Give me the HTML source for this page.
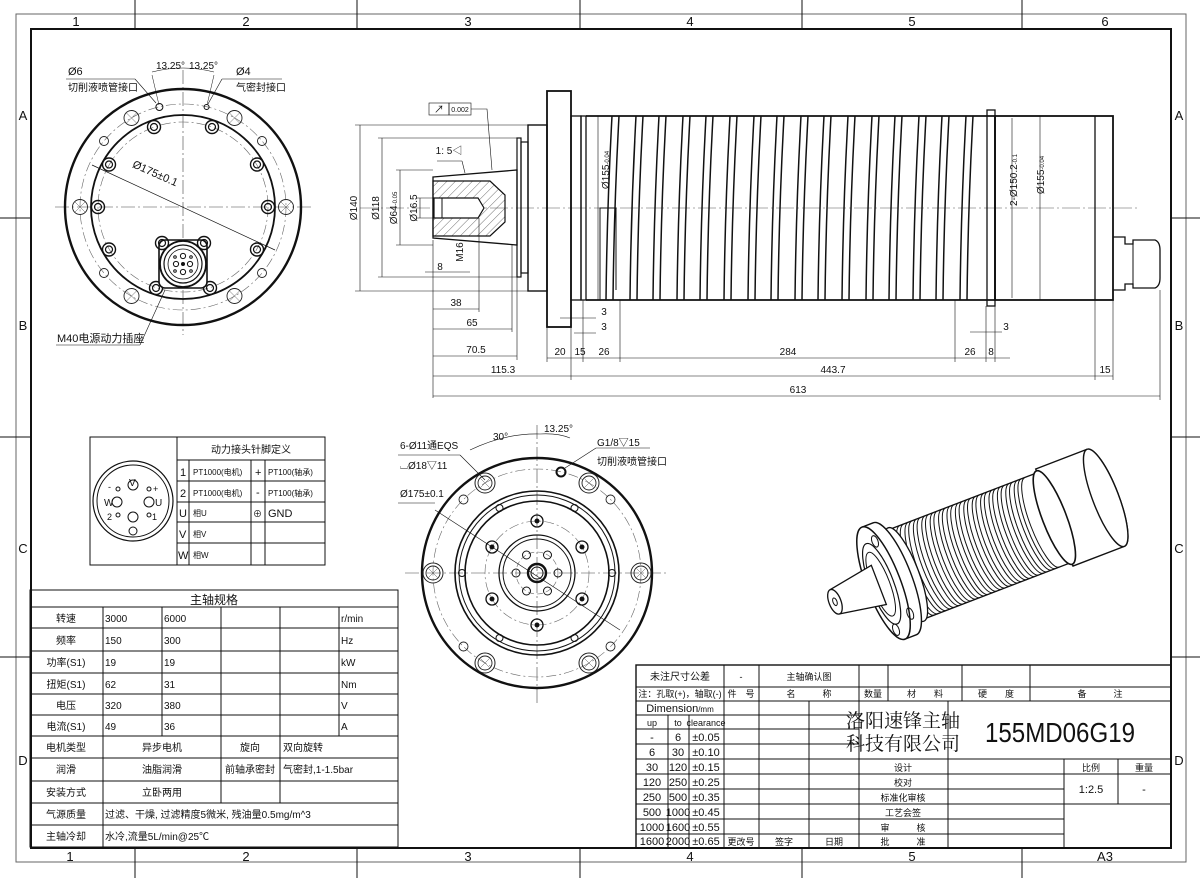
<!DOCTYPE html>
<html><head><meta charset="utf-8"><style>
html,body{margin:0;padding:0;background:#fff;}
svg{display:block;}
text{font-family:"Liberation Sans","Noto Sans CJK SC",sans-serif;fill:#111;}
</style></head><body>
<svg width="1200" height="878" viewBox="0 0 1200 878" xmlns="http://www.w3.org/2000/svg">
<defs>
<g id="groove"><path d="M6,116 Q1,208 0,300" fill="none" stroke="#111" stroke-width="1.5"/><path d="M13,116 Q8,208 7,300" fill="none" stroke="#111" stroke-width="1.5"/></g>
<g id="bh"><circle r="6.5" fill="none" stroke="#111" stroke-width="1.4"/><circle r="3.5" fill="none" stroke="#111" stroke-width="1.2"/></g>
<g id="lh"><circle r="7.5" fill="none" stroke="#222" stroke-width="0.9"/><path d="M-5,-5L5,5M-5,5L5,-5" stroke="#555" stroke-width="0.5"/></g>
<g id="sh"><circle r="4.5" fill="none" stroke="#222" stroke-width="0.9"/></g>
<g id="bg"><circle r="10" fill="none" stroke="#222" stroke-width="1"/><circle r="7" fill="none" stroke="#222" stroke-width="0.9"/><path d="M-5,-5L5,5M-5,5L5,-5" stroke="#555" stroke-width="0.5"/></g>
<g id="dh"><circle r="6" fill="none" stroke="#111" stroke-width="1.3"/><circle r="2.5" fill="#111"/></g>
<pattern id="hatch" width="6" height="6" patternUnits="userSpaceOnUse" patternTransform="rotate(45)"><line x1="0" y1="0" x2="0" y2="6" stroke="#333" stroke-width="0.7"/></pattern>
</defs>

<!-- Frame -->
<rect x="16" y="14" width="1170" height="848" fill="none" stroke="#666" stroke-width="1"/>
<rect x="31" y="29" width="1140" height="819" fill="none" stroke="#111" stroke-width="2"/>
<g stroke="#111" stroke-width="1">
<line x1="135" y1="0" x2="135" y2="29"/><line x1="357" y1="0" x2="357" y2="29"/><line x1="580" y1="0" x2="580" y2="29"/><line x1="802" y1="0" x2="802" y2="29"/><line x1="1022" y1="0" x2="1022" y2="29"/>
<line x1="135" y1="848" x2="135" y2="878"/><line x1="357" y1="848" x2="357" y2="878"/><line x1="580" y1="848" x2="580" y2="878"/><line x1="802" y1="848" x2="802" y2="878"/><line x1="1022" y1="848" x2="1022" y2="878"/>
<line x1="0" y1="218" x2="31" y2="218"/><line x1="0" y1="437" x2="31" y2="437"/><line x1="0" y1="657" x2="31" y2="657"/>
<line x1="1171" y1="218" x2="1200" y2="218"/><line x1="1171" y1="437" x2="1200" y2="437"/><line x1="1171" y1="657" x2="1200" y2="657"/>
</g>
<g font-size="13" text-anchor="middle">
<text x="76" y="26">1</text><text x="246" y="26">2</text><text x="468" y="26">3</text><text x="690" y="26">4</text><text x="912" y="26">5</text><text x="1105" y="26">6</text>
<text x="70" y="861">1</text><text x="246" y="861">2</text><text x="468" y="861">3</text><text x="690" y="861">4</text><text x="912" y="861">5</text><text x="1105" y="861">A3</text>
<text x="23" y="120">A</text><text x="23" y="330">B</text><text x="23" y="553">C</text><text x="23" y="765">D</text>
<text x="1179" y="120">A</text><text x="1179" y="330">B</text><text x="1179" y="553">C</text><text x="1179" y="765">D</text>
</g>

<!-- Top-left end view -->
<g>
<line x1="55" y1="207" x2="312" y2="207" stroke="#444" stroke-width="0.6" stroke-dasharray="14,3,2,3"/>
<line x1="183" y1="70" x2="183" y2="335" stroke="#444" stroke-width="0.6" stroke-dasharray="14,3,2,3"/>
<circle cx="183" cy="207" r="118" fill="none" stroke="#111" stroke-width="2.4"/>
<circle cx="183" cy="207" r="103" fill="none" stroke="#666" stroke-width="0.6" stroke-dasharray="10,3,2,3"/>
<circle cx="183" cy="207" r="92" fill="none" stroke="#111" stroke-width="1.8"/>
<circle cx="183" cy="207" r="85" fill="none" stroke="#666" stroke-width="0.6" stroke-dasharray="10,3,2,3"/>
<use href="#bh" x="154" y="127"/><use href="#bh" x="212" y="127"/>
<use href="#bh" x="109" y="164.5"/><use href="#bh" x="257" y="164.5"/>
<use href="#bh" x="98" y="207"/><use href="#bh" x="268" y="207"/>
<use href="#bh" x="109" y="249.5"/><use href="#bh" x="257" y="249.5"/>
<use href="#bh" x="156" y="288"/><use href="#bh" x="210" y="288"/>
<use href="#lh" x="131.5" y="118"/><use href="#lh" x="234.5" y="118"/>
<use href="#lh" x="80" y="207"/><use href="#lh" x="286" y="207"/>
<use href="#lh" x="131.5" y="296"/><use href="#lh" x="234.5" y="296"/>
<use href="#sh" x="104" y="141"/><use href="#sh" x="262" y="141"/><use href="#sh" x="104" y="273"/><use href="#sh" x="262" y="273"/>
<circle cx="159.4" cy="107" r="3.5" fill="none" stroke="#111"/><circle cx="206.6" cy="107" r="2.5" fill="none" stroke="#111"/>
<rect x="159" y="240" width="48" height="48" rx="6" fill="#fff" stroke="#111" stroke-width="1.6"/>
<circle cx="183" cy="264" r="23" fill="#fff" stroke="#111" stroke-width="1.8"/>
<circle cx="183" cy="264" r="19" fill="none" stroke="#111" stroke-width="1.2"/>
<circle cx="183" cy="264" r="15" fill="none" stroke="#111" stroke-width="0.8"/>
<circle cx="183" cy="264" r="2" fill="#111"/>
<circle cx="176" cy="264" r="2.6" fill="none" stroke="#111"/><circle cx="190" cy="264" r="2.6" fill="none" stroke="#111"/>
<circle cx="183" cy="256" r="2.6" fill="none" stroke="#111"/><circle cx="183" cy="272" r="2.6" fill="none" stroke="#111"/>
<circle cx="175" cy="257" r="1.3" fill="none" stroke="#111"/><circle cx="191" cy="257" r="1.3" fill="none" stroke="#111"/><circle cx="175" cy="271" r="1.3" fill="none" stroke="#111"/><circle cx="191" cy="271" r="1.3" fill="none" stroke="#111"/>
<use href="#bh" x="162" y="243"/><use href="#bh" x="204" y="243"/>
<line x1="92" y1="165" x2="275" y2="250" stroke="#111" stroke-width="0.7"/>
<text x="130" y="175" font-size="11" transform="rotate(24 150 175)">Ø175±0.1</text>
<line x1="152" y1="75" x2="159" y2="105" stroke="#111" stroke-width="0.5"/><line x1="214" y1="75" x2="207" y2="105" stroke="#111" stroke-width="0.5"/>
<path d="M152,72 Q183,64 214,72" fill="none" stroke="#111" stroke-width="0.6"/>
<text x="156" y="69" font-size="10">13.25°</text><text x="189" y="69" font-size="10">13.25°</text>
<text x="68" y="75" font-size="11">Ø6</text><text x="68" y="91" font-size="10">切削液喷管接口</text>
<line x1="66" y1="79" x2="135" y2="79" stroke="#111" stroke-width="0.6"/><line x1="135" y1="79" x2="156" y2="103" stroke="#111" stroke-width="0.6"/>
<text x="236" y="75" font-size="11">Ø4</text><text x="236" y="91" font-size="10">气密封接口</text>
<line x1="222" y1="79" x2="282" y2="79" stroke="#111" stroke-width="0.6"/><line x1="222" y1="79" x2="208" y2="104" stroke="#111" stroke-width="0.6"/>
<text x="57" y="342" font-size="11">M40电源动力插座</text>
<line x1="56" y1="345" x2="140" y2="345" stroke="#111" stroke-width="0.6"/><line x1="140" y1="345" x2="165" y2="290" stroke="#111" stroke-width="0.6"/>
</g>

<!-- Side view -->
<g stroke="#111" fill="none">
<line x1="360" y1="208" x2="1140" y2="208" stroke="#555" stroke-width="0.5" stroke-dasharray="18,3,2,3"/>
<path d="M433,177 L517,170 L517,245 L433,238 Z" stroke-width="1.3"/>
<path d="M433,181 L490,181 L505,195 L505,222 L490,236 L433,236 Z" fill="url(#hatch)" stroke-width="1.2"/>
<path d="M434,198 L478,198 L484,208 L478,218 L434,218 Z" fill="#fff" stroke-width="1.2"/>
<line x1="442" y1="198" x2="442" y2="218" stroke-width="1"/>
<rect x="517" y="138" width="4" height="139" stroke-width="1.2"/>
<rect x="521" y="142" width="7" height="131" stroke-width="1.2"/>
<rect x="528" y="125" width="19" height="166" stroke-width="1.4"/>
<rect x="547" y="91" width="24" height="236" stroke-width="1.8"/>
<rect x="571" y="116" width="10" height="184" stroke-width="1.3"/>
<rect x="581" y="116" width="5" height="184" stroke-width="1.3"/>
<path d="M586,116 L995,116 L995,300 L586,300" stroke-width="1.8"/>
<rect x="987" y="110" width="8" height="196" stroke-width="1.3"/>
<rect x="995" y="116" width="118" height="184" stroke-width="1.8"/>
<line x1="1095" y1="116" x2="1095" y2="300" stroke-width="1.3"/>
<path d="M600,300 L600,208 L616,208 L616,290" stroke-width="1"/>
<path d="M1113,237 L1125,237 L1125,244 L1133,244 L1133,240 L1155,240 Q1160,242 1160,250 L1160,278 Q1160,286 1155,288 L1133,288 L1133,284 L1125,284 L1125,290 L1113,290" stroke-width="1.3"/>
<line x1="1133" y1="244" x2="1133" y2="284" stroke-width="1"/>
</g>
<g>
<use href="#groove" x="606"/><use href="#groove" x="630"/><use href="#groove" x="653"/><use href="#groove" x="677"/><use href="#groove" x="700"/><use href="#groove" x="724"/><use href="#groove" x="748"/><use href="#groove" x="771"/><use href="#groove" x="795"/><use href="#groove" x="818"/><use href="#groove" x="842"/><use href="#groove" x="866"/><use href="#groove" x="889"/><use href="#groove" x="913"/><use href="#groove" x="936"/><use href="#groove" x="960"/>
</g>
<g stroke="#111" stroke-width="0.6" fill="none">
<line x1="355" y1="125" x2="528" y2="125"/><line x1="355" y1="291" x2="528" y2="291"/><line x1="360" y1="125" x2="360" y2="291"/>
<line x1="378" y1="138" x2="517" y2="138"/><line x1="378" y1="277" x2="517" y2="277"/><line x1="382" y1="138" x2="382" y2="277"/>
<line x1="396" y1="170" x2="433" y2="170"/><line x1="396" y1="245" x2="433" y2="245"/><line x1="400" y1="170" x2="400" y2="245"/>
<line x1="416" y1="198" x2="433" y2="198"/><line x1="416" y1="218" x2="433" y2="218"/><line x1="420" y1="198" x2="420" y2="218"/>
<line x1="433" y1="240" x2="433" y2="398"/><line x1="479" y1="218" x2="479" y2="312"/><line x1="512" y1="245" x2="512" y2="332"/><line x1="517" y1="245" x2="517" y2="360"/>
<line x1="547" y1="327" x2="547" y2="362"/><line x1="571" y1="327" x2="571" y2="380"/><line x1="583" y1="300" x2="583" y2="362"/><line x1="620" y1="300" x2="620" y2="362"/>
<line x1="955" y1="300" x2="955" y2="362"/><line x1="986" y1="306" x2="986" y2="362"/><line x1="995" y1="300" x2="995" y2="362"/>
<line x1="1095" y1="300" x2="1095" y2="380"/><line x1="1113" y1="300" x2="1113" y2="380"/><line x1="1160" y1="290" x2="1160" y2="400"/>
<line x1="433" y1="309" x2="479" y2="309"/><line x1="433" y1="329" x2="512" y2="329"/><line x1="433" y1="356" x2="517" y2="356"/>
<line x1="433" y1="376" x2="571" y2="376"/><line x1="571" y1="376" x2="1095" y2="376"/><line x1="1095" y1="376" x2="1113" y2="376"/>
<line x1="433" y1="396" x2="1160" y2="396"/>
<line x1="547" y1="358" x2="1010" y2="358"/>
<line x1="560" y1="318" x2="596" y2="318"/><line x1="574" y1="333" x2="596" y2="333"/>
<line x1="970" y1="332" x2="1002" y2="332"/>
<line x1="425" y1="272" x2="470" y2="272"/>
<line x1="598" y1="116" x2="598" y2="300"/><line x1="1040" y1="116" x2="1040" y2="300"/><line x1="1012" y1="118" x2="1012" y2="298"/>
<rect x="429" y="103" width="20" height="12"/><rect x="449" y="103" width="22" height="12"/>
<path d="M471,109 L487,109 L492,170"/>
<line x1="437" y1="161" x2="462" y2="161"/><line x1="462" y1="161" x2="465" y2="173"/>
</g>
<g font-size="10" text-anchor="middle">
<text transform="translate(357 208) rotate(-90)">Ø140</text>
<text transform="translate(379 208) rotate(-90)">Ø118</text>
<text transform="translate(397 208) rotate(-90)">Ø64<tspan font-size="6">-0.05</tspan></text>
<text transform="translate(417 208) rotate(-90)">Ø16.5</text>
<text transform="translate(463 252) rotate(-90)">M16</text>
<text x="440" y="270">8</text>
<text x="456" y="306">38</text><text x="472" y="326">65</text><text x="476" y="353">70.5</text><text x="503" y="373">115.3</text>
<text x="560" y="355">20</text><text x="580" y="355">15</text><text x="604" y="355">26</text>
<text x="788" y="355">284</text><text x="970" y="355">26</text><text x="991" y="355">8</text>
<text x="604" y="315">3</text><text x="604" y="330">3</text><text x="1006" y="330">3</text>
<text x="833" y="373">443.7</text><text x="1105" y="373">15</text><text x="798" y="393">613</text>
<text x="449" y="154">1: 5◁</text>
<text x="460" y="112" font-size="7">0.002</text><text x="439" y="113">↗</text>
<text transform="translate(609 170) rotate(-90)">Ø155<tspan font-size="6">-0.04</tspan></text>
<text transform="translate(1017 180) rotate(-90)">2-Ø150.2<tspan font-size="6">-0.1</tspan></text>
<text transform="translate(1044 175) rotate(-90)">Ø155<tspan font-size="6">-0.04</tspan></text>
</g>

<!-- Connector table -->
<g stroke="#111" stroke-width="1" fill="none">
<rect x="90" y="437" width="235" height="128"/>
<line x1="177" y1="437" x2="177" y2="565"/>
<line x1="177" y1="460" x2="325" y2="460"/><line x1="177" y1="481" x2="325" y2="481"/><line x1="177" y1="502" x2="325" y2="502"/><line x1="177" y1="522" x2="325" y2="522"/><line x1="177" y1="543" x2="325" y2="543"/>
<line x1="189" y1="460" x2="189" y2="565"/><line x1="251" y1="460" x2="251" y2="565"/><line x1="265" y1="460" x2="265" y2="565"/>
<circle cx="133" cy="501" r="40" stroke-width="1.2"/><circle cx="133" cy="501" r="36"/>
<circle cx="133" cy="485" r="5"/><circle cx="117" cy="502" r="5"/><circle cx="149" cy="502" r="5"/><circle cx="133" cy="517" r="5"/>
<circle cx="118" cy="489" r="2"/><circle cx="149" cy="489" r="2"/><circle cx="118" cy="515" r="2"/><circle cx="149" cy="515" r="2"/>
<circle cx="133" cy="531" r="4"/>
</g>
<g font-size="11">
<text x="251" y="453" text-anchor="middle" font-size="10">动力接头针脚定义</text>
<text x="180" y="476">1</text><text x="180" y="497">2</text><text x="179" y="517">U</text><text x="179" y="538">V</text><text x="178" y="559">W</text>
<text x="193" y="475" font-size="8">PT1000(电机)</text><text x="193" y="496" font-size="8">PT1000(电机)</text>
<text x="193" y="516" font-size="8">相U</text><text x="193" y="537" font-size="8">相V</text><text x="193" y="558" font-size="8">相W</text>
<text x="255" y="476">+</text><text x="256" y="496">-</text><text x="253" y="517" font-size="9">⊕</text>
<text x="268" y="475" font-size="8">PT100(轴承)</text><text x="268" y="496" font-size="8">PT100(轴承)</text><text x="268" y="517">GND</text>
<text x="129" y="486" font-size="10">V</text><text x="104" y="506" font-size="10">W</text><text x="155" y="506" font-size="10">U</text>
<text x="108" y="490" font-size="9">-</text><text x="153" y="492" font-size="9">+</text><text x="107" y="520" font-size="9">2</text><text x="152" y="520" font-size="9">1</text>
</g>

<!-- Spec table -->
<g stroke="#111" stroke-width="1" fill="none">
<rect x="30" y="590" width="368" height="257"/>
<line x1="30" y1="607" x2="398" y2="607"/><line x1="30" y1="628" x2="398" y2="628"/><line x1="30" y1="651" x2="398" y2="651"/><line x1="30" y1="673" x2="398" y2="673"/><line x1="30" y1="694" x2="398" y2="694"/><line x1="30" y1="715" x2="398" y2="715"/><line x1="30" y1="736" x2="398" y2="736"/><line x1="30" y1="758" x2="398" y2="758"/><line x1="30" y1="781" x2="398" y2="781"/><line x1="30" y1="803" x2="398" y2="803"/><line x1="30" y1="825" x2="398" y2="825"/>
<line x1="103" y1="607" x2="103" y2="847"/>
<line x1="162" y1="607" x2="162" y2="736"/><line x1="221" y1="607" x2="221" y2="803"/><line x1="280" y1="607" x2="280" y2="803"/><line x1="339" y1="607" x2="339" y2="736"/>
</g>
<g font-size="10">
<text x="214" y="604" text-anchor="middle" font-size="12">主轴规格</text>
<g text-anchor="middle">
<text x="66" y="622">转速</text><text x="66" y="644">频率</text><text x="66" y="666">功率(S1)</text><text x="66" y="688">扭矩(S1)</text><text x="66" y="709">电压</text><text x="66" y="730">电流(S1)</text>
<text x="66" y="751">电机类型</text><text x="66" y="773">润滑</text><text x="66" y="796">安装方式</text><text x="66" y="818">气源质量</text><text x="66" y="840">主轴冷却</text>
<text x="162" y="751">异步电机</text><text x="250" y="751">旋向</text><text x="162" y="773">油脂润滑</text><text x="250" y="773">前轴承密封</text><text x="162" y="796">立卧两用</text>
</g>
<text x="105" y="622">3000</text><text x="164" y="622">6000</text><text x="341" y="622">r/min</text>
<text x="105" y="644">150</text><text x="164" y="644">300</text><text x="341" y="644">Hz</text>
<text x="105" y="666">19</text><text x="164" y="666">19</text><text x="341" y="666">kW</text>
<text x="105" y="688">62</text><text x="164" y="688">31</text><text x="341" y="688">Nm</text>
<text x="105" y="709">320</text><text x="164" y="709">380</text><text x="341" y="709">V</text>
<text x="105" y="730">49</text><text x="164" y="730">36</text><text x="341" y="730">A</text>
<text x="283" y="751">双向旋转</text><text x="283" y="773">气密封,1-1.5bar</text>
<text x="105" y="818">过滤、干燥, 过滤精度5微米, 残油量0.5mg/m^3</text>
<text x="105" y="840">水冷,流量5L/min@25℃</text>
</g>

<!-- Front view -->
<g fill="none" stroke="#111">
<line x1="405" y1="573" x2="668" y2="573" stroke="#444" stroke-width="0.6" stroke-dasharray="14,3,2,3"/>
<line x1="537" y1="425" x2="537" y2="705" stroke="#444" stroke-width="0.6" stroke-dasharray="14,3,2,3"/>
<circle cx="537" cy="573" r="115" stroke-width="2.4"/>
<circle cx="537" cy="573" r="104" stroke="#666" stroke-width="0.6" stroke-dasharray="10,3,2,3"/>
<circle cx="537" cy="573" r="82" stroke-width="1.6"/>
<circle cx="537" cy="573" r="78" stroke-width="1"/>
<circle cx="537" cy="573" r="72" stroke-width="1.6"/>
<circle cx="537" cy="573" r="52" stroke="#666" stroke-width="0.6" stroke-dasharray="10,3,2,3"/>
<circle cx="537" cy="573" r="38" stroke-width="1.3"/><circle cx="537" cy="573" r="34" stroke-width="1"/>
<circle cx="537" cy="573" r="21" stroke="#666" stroke-width="0.6" stroke-dasharray="6,3"/>
<circle cx="537" cy="573" r="9" stroke-width="2.4"/><circle cx="537" cy="573" r="6" stroke-width="1"/>
</g>
<use href="#bg" x="485" y="483"/><use href="#bg" x="589" y="483"/><use href="#bg" x="433" y="573"/><use href="#bg" x="641" y="573"/><use href="#bg" x="485" y="663"/><use href="#bg" x="589" y="663"/>
<use href="#sh" x="463.5" y="499.5"/><use href="#sh" x="610.5" y="499.5"/><use href="#sh" x="463.5" y="646.5"/><use href="#sh" x="610.5" y="646.5"/>
<circle cx="561" cy="472" r="4.5" fill="none" stroke="#111" stroke-width="2"/>
<g fill="none" stroke="#111" stroke-width="1"><circle cx="499.5" cy="508" r="3.5"/><circle cx="574.5" cy="508" r="3.5"/><circle cx="462" cy="573" r="3.5"/><circle cx="612" cy="573" r="3.5"/><circle cx="499.5" cy="638" r="3.5"/><circle cx="574.5" cy="638" r="3.5"/>
<circle cx="526.5" cy="555" r="4"/><circle cx="547.5" cy="555" r="4"/><circle cx="516" cy="573" r="4"/><circle cx="558" cy="573" r="4"/><circle cx="526.5" cy="591" r="4"/><circle cx="547.5" cy="591" r="4"/></g>
<use href="#dh" x="537" y="521"/><use href="#dh" x="582" y="547"/><use href="#dh" x="582" y="599"/><use href="#dh" x="537" y="625"/><use href="#dh" x="492" y="599"/><use href="#dh" x="492" y="547"/>
<g stroke="#111" stroke-width="0.6" fill="none">
<line x1="435" y1="510" x2="620" y2="630"/>
<path d="M470,450 Q505,433 540,434"/><path d="M540,434 Q558,433 570,438"/>
<line x1="398" y1="455" x2="460" y2="455"/><line x1="460" y1="455" x2="485" y2="480"/>
<line x1="398" y1="503" x2="435" y2="503"/>
<line x1="596" y1="448" x2="650" y2="448"/><line x1="596" y1="448" x2="565" y2="468"/>
</g>
<g font-size="10">
<text x="400" y="449">6-Ø11通EQS</text><text x="400" y="469">⌴Ø18▽11</text><text x="400" y="497">Ø175±0.1</text>
<text x="493" y="440">30°</text><text x="544" y="432">13.25°</text>
<text x="597" y="446">G1/8▽15</text><text x="597" y="465">切削液喷管接口</text>
</g>

<!-- 3D view -->
<g transform="translate(975,548) rotate(-21)" fill="#fff" stroke="#111">
<path d="M85,-52 L140,-52 A13,52 0 0 1 140,52 L85,52 Z" stroke-width="1.4"/>
<ellipse cx="140" cy="0" rx="13" ry="52" stroke-width="1.4"/>
<path d="M-72,-48 L85,-48 L85,48 L-72,48 Z" stroke-width="1.3"/>
<ellipse cx="85" cy="0" rx="12" ry="50" stroke-width="1.6"/>
<g fill="none" stroke-width="1">
<path d="M-62,-48 A12,48 0 0 0 -62,48"/><path d="M-53,-48 A12,48 0 0 0 -53,48"/><path d="M-44,-48 A12,48 0 0 0 -44,48"/><path d="M-35,-48 A12,48 0 0 0 -35,48"/><path d="M-26,-48 A12,48 0 0 0 -26,48"/><path d="M-17,-48 A12,48 0 0 0 -17,48"/><path d="M-8,-48 A12,48 0 0 0 -8,48"/><path d="M1,-48 A12,48 0 0 0 1,48"/><path d="M10,-48 A12,48 0 0 0 10,48"/><path d="M19,-48 A12,48 0 0 0 19,48"/><path d="M28,-48 A12,48 0 0 0 28,48"/><path d="M37,-48 A12,48 0 0 0 37,48"/><path d="M46,-48 A12,48 0 0 0 46,48"/><path d="M55,-48 A12,48 0 0 0 55,48"/><path d="M64,-48 A12,48 0 0 0 64,48"/><path d="M72,-48 A12,48 0 0 0 72,48"/>
<path d="M-58,-48 A12,48 0 0 0 -58,48"/><path d="M-49,-48 A12,48 0 0 0 -49,48"/><path d="M-40,-48 A12,48 0 0 0 -40,48"/><path d="M-31,-48 A12,48 0 0 0 -31,48"/><path d="M-22,-48 A12,48 0 0 0 -22,48"/><path d="M-13,-48 A12,48 0 0 0 -13,48"/><path d="M-4,-48 A12,48 0 0 0 -4,48"/><path d="M5,-48 A12,48 0 0 0 5,48"/><path d="M14,-48 A12,48 0 0 0 14,48"/><path d="M23,-48 A12,48 0 0 0 23,48"/><path d="M32,-48 A12,48 0 0 0 32,48"/><path d="M41,-48 A12,48 0 0 0 41,48"/><path d="M50,-48 A12,48 0 0 0 50,48"/><path d="M59,-48 A12,48 0 0 0 59,48"/><path d="M68,-48 A12,48 0 0 0 68,48"/>
</g>
<ellipse cx="-74" cy="0" rx="13" ry="50" stroke-width="1.3"/>
<path d="M-98,-60 L-86,-60 A17,60 0 0 1 -86,60 L-98,60" stroke-width="1.4"/>
<ellipse cx="-98" cy="0" rx="17" ry="60" stroke-width="1.5"/>
<ellipse cx="-100" cy="0" rx="12" ry="43" stroke-width="1.2"/>
<ellipse cx="-101" cy="0" rx="9" ry="34" stroke-width="1"/>
<path d="M-150,-13 L-103,-21 L-103,21 L-150,13 Z" stroke-width="1.3"/>
<ellipse cx="-150" cy="0" rx="6" ry="13" stroke-width="1.3"/>
<ellipse cx="-150" cy="0" rx="2" ry="4" fill="none" stroke-width="1"/>
<ellipse cx="-91" cy="-42" rx="3" ry="6" fill="none"/><ellipse cx="-84" cy="38" rx="3" ry="6" fill="none"/><ellipse cx="-103" cy="48" rx="3" ry="6" fill="none"/>
</g>

<!-- Title block -->
<g stroke="#111" stroke-width="1" fill="none">
<rect x="636" y="665" width="535" height="183" stroke-width="1.4"/>
<line x1="636" y1="687" x2="1171" y2="687"/><line x1="636" y1="701" x2="1171" y2="701"/>
<line x1="724" y1="665" x2="724" y2="848"/><line x1="759" y1="665" x2="759" y2="848"/><line x1="859" y1="665" x2="859" y2="848"/>
<line x1="888" y1="665" x2="888" y2="701"/><line x1="962" y1="665" x2="962" y2="701"/><line x1="1030" y1="665" x2="1030" y2="701"/>
<line x1="809" y1="701" x2="809" y2="848"/>
<line x1="668" y1="715" x2="668" y2="848"/><line x1="689" y1="715" x2="689" y2="848"/>
<line x1="636" y1="715" x2="859" y2="715"/><line x1="636" y1="729" x2="859" y2="729"/><line x1="636" y1="744" x2="859" y2="744"/><line x1="636" y1="759" x2="859" y2="759"/><line x1="636" y1="774" x2="859" y2="774"/><line x1="636" y1="789" x2="859" y2="789"/><line x1="636" y1="804" x2="859" y2="804"/><line x1="636" y1="819" x2="859" y2="819"/><line x1="636" y1="834" x2="859" y2="834"/>
<line x1="948" y1="701" x2="948" y2="848"/>
<line x1="859" y1="759" x2="1171" y2="759"/><line x1="859" y1="774" x2="1171" y2="774"/>
<line x1="859" y1="789" x2="1064" y2="789"/><line x1="859" y1="804" x2="1171" y2="804"/><line x1="859" y1="819" x2="1064" y2="819"/><line x1="859" y1="834" x2="1064" y2="834"/>
<line x1="1064" y1="759" x2="1064" y2="848"/><line x1="1118" y1="759" x2="1118" y2="804"/>
</g>
<g font-size="9" text-anchor="middle">
<text x="680" y="680" font-size="10">未注尺寸公差</text><text x="741" y="680">-</text><text x="809" y="680">主轴确认图</text>
<text x="680" y="697">注：孔取(+)，轴取(-)</text><text x="741" y="697">件　号</text><text x="809" y="697">名　　　称</text><text x="873" y="697">数量</text><text x="925" y="697">材　　料</text><text x="996" y="697">硬　　度</text><text x="1100" y="697">备　　　注</text>
<text x="680" y="712" font-size="11">Dimension<tspan font-size="8">/mm</tspan></text>
<text x="652" y="726">up</text><text x="678" y="726">to</text><text x="706" y="726" font-size="9">clearance</text>
<g font-size="11">
<text x="652" y="741">-</text><text x="678" y="741">6</text><text x="706" y="741">±0.05</text>
<text x="652" y="756">6</text><text x="678" y="756">30</text><text x="706" y="756">±0.10</text>
<text x="652" y="771">30</text><text x="678" y="771">120</text><text x="706" y="771">±0.15</text>
<text x="652" y="786">120</text><text x="678" y="786">250</text><text x="706" y="786">±0.25</text>
<text x="652" y="801">250</text><text x="678" y="801">500</text><text x="706" y="801">±0.35</text>
<text x="652" y="816">500</text><text x="678" y="816">1000</text><text x="706" y="816">±0.45</text>
<text x="652" y="831">1000</text><text x="678" y="831">1600</text><text x="706" y="831">±0.55</text>
<text x="652" y="845">1600</text><text x="678" y="845">2000</text><text x="706" y="845">±0.65</text>
</g>
<text x="741" y="845">更改号</text><text x="784" y="845">签字</text><text x="834" y="845">日期</text>
<text x="903" y="771">设计</text><text x="903" y="786">校对</text><text x="903" y="801">标准化审核</text><text x="903" y="816">工艺会签</text><text x="903" y="831">审　　　核</text><text x="903" y="845">批　　　准</text>
<text x="1091" y="771">比例</text><text x="1144" y="771">重量</text>
<text x="1091" y="793" font-size="11">1:2.5</text><text x="1144" y="793" font-size="11">-</text>
</g>
<text x="903" y="727" font-size="19" text-anchor="middle" style="font-family:'Liberation Serif','Noto Serif CJK SC',serif" fill="#555">洛阳速锋主轴</text>
<text x="903" y="750" font-size="19" text-anchor="middle" style="font-family:'Liberation Serif','Noto Serif CJK SC',serif" fill="#555">科技有限公司</text>
<text x="1060" y="742" font-size="28" text-anchor="middle" textLength="150" lengthAdjust="spacingAndGlyphs">155MD06G19</text>
</svg>
</body></html>
